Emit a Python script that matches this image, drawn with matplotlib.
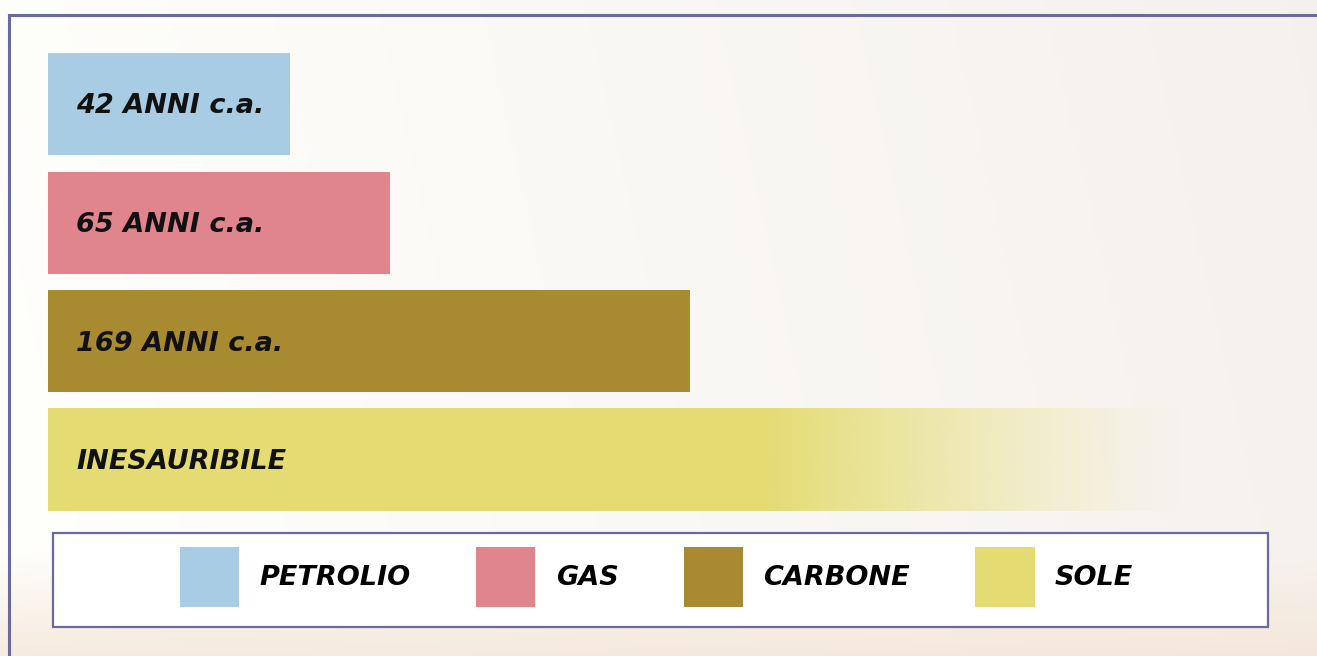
import numpy as np
import matplotlib
matplotlib.use("Agg")
import matplotlib.pyplot as plt
from matplotlib.patches import Rectangle
from matplotlib.lines import Line2D
from matplotlib.font_manager import FontProperties

# ---- data ----
categories = ["PETROLIO", "GAS", "CARBONE", "SOLE"]
bar_labels = ["42 ANNI c.a.", "65 ANNI c.a.", "169 ANNI c.a.", "INESAURIBILE"]
bar_lengths = [24.2, 34.2, 64.2, 114.0]   # drawn lengths (as in the picture)
colors = ["#a8cce4", "#e0848e", "#a88b30", "#e4dc72"]

W, H = 1317, 656
fig = plt.figure(figsize=(W / 100, H / 100), dpi=100)

FAM = ["DejaVu Sans"]
FS = 19.5

# ---- background ----
bg = fig.add_axes([0, 0, 1, 1], zorder=0)
bg.set_axis_off()
yy, xx = np.mgrid[0:1:200j, 0:1:400j]
base_white = np.array([1.0, 1.0, 0.99])
beige = np.array([0.96, 0.945, 0.93])
peach = np.array([0.95, 0.89, 0.82])
t = np.clip(xx * 0.9 + 0.1 * (1 - yy), 0, 1)[..., None]
img = base_white * (1 - t) + beige * t
b = np.clip((yy - 0.84) / 0.16, 0, 1)[..., None] * 0.7
img = img * (1 - b) + peach * b
bg.imshow(img, extent=[0, 1, 0, 1], aspect="auto", origin="upper")
bg.set_xlim(0, 1)
bg.set_ylim(0, 1)

# outer frame (left and top lines)
fcol = "#6a6a9e"
fig.add_artist(Line2D([9 / W, 9 / W], [0, 1 - 15 / H], transform=fig.transFigure,
                      color=fcol, lw=2.2, zorder=1))
fig.add_artist(Line2D([9 / W, 1], [1 - 15 / H, 1 - 15 / H], transform=fig.transFigure,
                      color=fcol, lw=2.2, zorder=1))

# ---- bars ----
x0 = 48
top, bottom = 53, 511
ax = fig.add_axes([x0 / W, 1 - bottom / H, 1200 / W, (bottom - top) / H], zorder=2)
ax.set_axis_off()
ax.patch.set_alpha(0)
n = len(categories)
ypos = np.arange(n)
height = 0.86

for i in range(n - 1):
    ax.barh(ypos[i], bar_lengths[i], height=height, color=colors[i], edgecolor="none")

# sole bar with fading gradient
i = n - 1
L = bar_lengths[i]
grad = np.ones((1, 300, 4))
grad[..., :3] = matplotlib.colors.to_rgb(colors[i])
xs = np.linspace(0, L, 300)
grad[0, :, 3] = np.clip(1 - (xs - 0.63 * L) / (0.37 * L), 0, 1) ** 1.2
ax.imshow(grad, extent=[0, L, ypos[i] + height / 2, ypos[i] - height / 2],
          aspect="auto", interpolation="bilinear", zorder=2)
ax.set_xlim(0, 120)
ax.set_ylim(n - 1 + height / 2, -height / 2)

for i in range(n):
    ax.text(2.8, ypos[i] + 0.02, bar_labels[i], va="center", ha="left",
            fontsize=FS, color="#111111", zorder=3, family=FAM,
            weight="bold", style="italic")

# ---- legend ----
lx0, ly0, lx1, ly1 = 53, 533, 1268, 627
fig.add_artist(Rectangle((lx0 / W, 1 - ly1 / H), (lx1 - lx0) / W, (ly1 - ly0) / H,
                         transform=fig.transFigure, facecolor="white",
                         edgecolor=fcol, lw=1.6, zorder=3))
handles = [Rectangle((0, 0), 1, 1, facecolor=c, edgecolor="none") for c in colors]
leg = fig.legend(handles, categories, loc="center",
                 bbox_to_anchor=((lx0 + lx1) / 2 / W - 0.003, 1 - (ly0 + ly1) / 2 / H + 0.005),
                 ncol=4, frameon=False, handlelength=2.2, handleheight=3.05,
                 handletextpad=0.75, columnspacing=2.4,
                 prop=FontProperties(family=FAM, weight="bold", style="italic", size=FS))
leg.set_zorder(4)

fig.savefig("out.png", dpi=100)
